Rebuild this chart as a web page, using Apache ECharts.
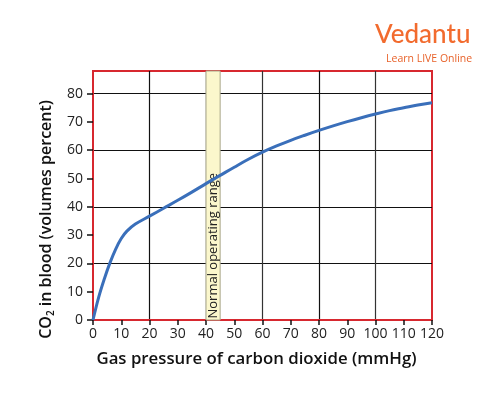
<!DOCTYPE html>
<html>
<head>
<meta charset="utf-8">
<script src="https://cdn.jsdelivr.net/npm/echarts@6/dist/echarts.min.js"></script>
<style>
  html, body { margin: 0; padding: 0; background: #fff; }
  #chart { width: 500px; height: 401px; }
</style>
</head>
<body>
<div id="chart"></div>
<script>
// CO2 content of blood vs. CO2 partial pressure
const pressure = [0, 2, 4, 6, 8, 10, 12, 15, 20, 25, 30, 35, 40, 45, 50, 55, 60, 65, 70, 75, 80, 85, 90, 95, 100, 105, 110, 115, 120];
const co2Content = [0, 8, 14.5, 20.2, 25, 28.8, 31.4, 33.9, 36.7, 39.5, 42.3, 45.2, 48.2, 51.1, 54, 56.8, 59.3, 61.5, 63.5, 65.3, 67, 68.6, 70.1, 71.5, 72.8, 74, 75, 76, 76.8];
const normalRange = [40, 45];
const xLimits = [0, 120];
const yLimits = [0, 88];
const xTicks = [0, 10, 20, 30, 40, 50, 60, 70, 80, 90, 100, 110, 120];
const yTicks = [0, 10, 20, 30, 40, 50, 60, 70, 80];

const chart = echarts.init(document.getElementById("chart"));
const red = "#d7282f";
const font = "Open Sans";

chart.setOption({
  animation: false,
  textStyle: { fontFamily: font },
  grid: {
    left: 93,
    top: 71,
    right: 68,
    bottom: 81,
    show: true,
    borderColor: red,
    borderWidth: 2
  },
  graphic: [
    {
      type: "text",
      left: 375,
      top: 22,
      style: { text: "Vedantu", fill: "#f26b2e", font: "500 26px Lato" }
    },
    {
      type: "text",
      left: 386,
      top: 54,
      style: { text: "Learn LIVE Online", fill: "#e8622a", font: "10.5px 'Open Sans'" }
    }
  ],
  xAxis: {
    type: "value",
    min: xLimits[0],
    max: xLimits[1],
    interval: 10,
    name: "Gas pressure of carbon dioxide (mmHg)",
    nameLocation: "middle",
    nameGap: 31,
    nameTextStyle: { fontSize: 16.8, fontWeight: 600, color: "#111", padding: [0, 12, 0, 0] },
    axisLine: { lineStyle: { color: red, width: 2 } },
    axisTick: { length: 5, customValues: xTicks, lineStyle: { color: "#111", width: 1.5 } },
    axisLabel: { fontSize: 14, color: "#222", margin: 7, customValues: xTicks },
    splitLine: {
      show: true,
      lineStyle: {
        width: 1.2,
        color: ["transparent", "transparent", "#111", "transparent", "#111", "transparent", "#333",
                "transparent", "#111", "transparent", "#333", "transparent", "transparent"]
      }
    }
  },
  yAxis: {
    type: "value",
    min: yLimits[0],
    max: yLimits[1],
    interval: 10,
    name: "CO{sub|2} in blood (volumes percent)",
    nameLocation: "middle",
    nameRotate: 90,
    nameGap: 37,
    nameTextStyle: {
      fontSize: 16,
      fontWeight: 600,
      color: "#111",
      padding: [0, 48, 0, 0],
      rich: { sub: { fontSize: 10, fontWeight: 600, color: "#111", verticalAlign: "bottom", padding: [9, 0, 0, 0] } }
    },
    axisLine: { show: true, lineStyle: { color: red, width: 2 } },
    axisTick: { show: true, length: 6, customValues: yTicks, lineStyle: { color: "#111", width: 1.5 } },
    axisLabel: { fontSize: 14, color: "#222", margin: 10, customValues: yTicks },
    splitLine: {
      show: true,
      lineStyle: {
        width: 1.2,
        color: ["transparent", "transparent", "#111", "transparent", "#111", "transparent", "#111", "transparent", "#111"]
      }
    }
  },
  series: [
    {
      type: "line",
      data: pressure.map((p, i) => [p, co2Content[i]]),
      smooth: 0.4,
      showSymbol: false,
      lineStyle: { color: "#3a6fba", width: 3 },
      z: 5,
      markArea: {
        silent: true,
        itemStyle: { color: "#fbf7cc", borderColor: "#a8a68a", borderWidth: 1 },
        label: {
          show: true,
          position: "insideBottom",
          rotate: 90,
          align: "left",
          verticalAlign: "middle",
          distance: 2,
          fontSize: 13,
          color: "#222",
          fontFamily: font
        },
        data: [[{ xAxis: normalRange[0], name: "Normal operating range" }, { xAxis: normalRange[1] }]]
      }
    }
  ]
});
</script>
</body>
</html>
